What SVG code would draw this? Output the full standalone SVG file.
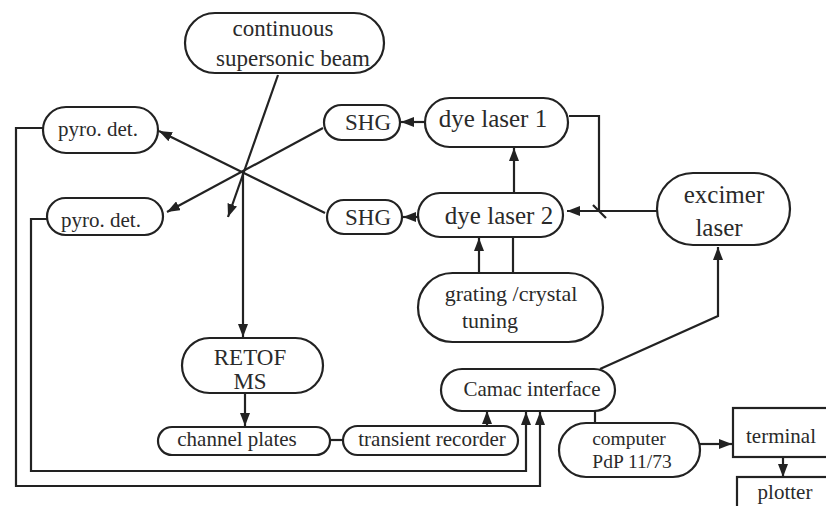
<svg xmlns="http://www.w3.org/2000/svg" width="826" height="506" viewBox="0 0 826 506">
<defs>
<marker id="ah" markerUnits="userSpaceOnUse" markerWidth="14" markerHeight="10" refX="13" refY="5" orient="auto">
<path d="M0,0 L13,5 L0,10 z" fill="#222"/>
</marker>
</defs>
<style>
.n{fill:#fff;stroke:#222;stroke-width:2.2}
.t{font-family:"Liberation Serif","Times New Roman","DejaVu Serif",serif;fill:#2a2a2a;text-anchor:middle}
.c{fill:none;stroke:#222;stroke-width:2.2}
.a{marker-end:url(#ah)}
</style>
<rect width="826" height="506" fill="#fff"/>
<g id="connectors">
<path class="c a" d="M278,75 L228,217"/>
<path class="c a" d="M323,128 L167,212"/>
<path class="c a" d="M325,213 L159,131"/>
<path class="c a" d="M243,172 L243,337"/>
<path class="c a" d="M425,122 L401,122"/>
<path class="c a" d="M418,217 L403,217"/>
<path class="c a" d="M514,193 L514,148"/>
<path class="c" d="M569,116 L599,116 L599,212"/>
<path class="c" d="M593,205 L606,218"/>
<path class="c a" d="M657,211 L567,211"/>
<path class="c a" d="M479,273 L479,238"/>
<path class="c" d="M513,237 L513,273"/>
<path class="c a" d="M600,369 L718,316 L718,247"/>
<path class="c" d="M595,411 L595,423"/>
<path class="c a" d="M487,425 L487,411"/>
<path class="c a" d="M245,393 L245,426"/>
<path class="c" d="M330,440 L343,440"/>
<path class="c a" d="M43,128 L16,128 L16,486 L540,486 L540,412"/>
<path class="c a" d="M47,219 L31,219 L31,471 L526,471 L526,412"/>
<path class="c a" d="M700,444 L732,444"/>
<path class="c a" d="M783,457 L783,477"/>
</g>
<g id="beam">
<rect class="n" x="185" y="13" width="199" height="60" rx="30"/>
<text class="t" x="283" y="36" font-size="23">continuous</text>
<text class="t" x="293" y="66" font-size="23">supersonic beam</text>
</g>
<g id="pyro1">
<rect class="n" x="43" y="107" width="115" height="46" rx="23"/>
<text class="t" x="98" y="136" font-size="21">pyro. det.</text>
</g>
<g id="pyro2">
<rect class="n" x="47" y="198" width="116" height="37" rx="18.5"/>
<text class="t" x="101" y="227" font-size="21">pyro. det.</text>
</g>
<g id="shg1">
<rect class="n" x="324" y="105" width="76" height="35" rx="17.5"/>
<text class="t" x="368" y="130" font-size="23">SHG</text>
</g>
<g id="shg2">
<rect class="n" x="327" y="200" width="75" height="34" rx="17"/>
<text class="t" x="368" y="225" font-size="23">SHG</text>
</g>
<g id="dye1">
<rect class="n" x="425" y="98" width="143" height="49" rx="24.5"/>
<text class="t" x="493" y="127" font-size="25">dye laser 1</text>
</g>
<g id="dye2">
<rect class="n" x="418" y="193" width="145" height="44" rx="22"/>
<text class="t" x="499" y="224" font-size="25">dye laser 2</text>
</g>
<g id="excimer">
<rect class="n" x="657" y="173" width="133" height="72" rx="36"/>
<text class="t" x="724" y="203" font-size="25">excimer</text>
<text class="t" x="719" y="236" font-size="25">laser</text>
</g>
<g id="grating">
<rect class="n" x="418" y="273" width="185" height="69" rx="34.5"/>
<text class="t" x="511" y="301" font-size="22">grating /crystal</text>
<text class="t" x="490" y="328" font-size="22">tuning</text>
</g>
<g id="retof">
<rect class="n" x="182" y="338" width="141" height="55" rx="27.5"/>
<text class="t" x="250" y="365" font-size="23">RETOF</text>
<text class="t" x="250" y="389" font-size="23">MS</text>
</g>
<g id="channel">
<rect class="n" x="158" y="427" width="172" height="28" rx="14"/>
<text class="t" x="237" y="446" font-size="21">channel plates</text>
</g>
<g id="transient">
<rect class="n" x="343" y="426" width="175" height="29" rx="14.5"/>
<text class="t" x="432" y="446" font-size="21">transient recorder</text>
</g>
<g id="camac">
<rect class="n" x="441" y="369" width="174" height="42" rx="21"/>
<text class="t" x="532" y="396" font-size="21">Camac interface</text>
</g>
<g id="computer">
<rect class="n" x="559" y="423" width="141" height="54" rx="27"/>
<text class="t" x="629" y="445" font-size="19.5">computer</text>
<text class="t" x="632" y="468" font-size="19.5">PdP 11/73</text>
</g>
<g id="terminal">
<rect class="n" x="733" y="408" width="110" height="49"/>
<text class="t" x="781" y="443" font-size="21">terminal</text>
</g>
<g id="plotter">
<rect class="n" x="737" y="477" width="110" height="50"/>
<text class="t" x="785" y="499" font-size="21">plotter</text>
</g>
</svg>
